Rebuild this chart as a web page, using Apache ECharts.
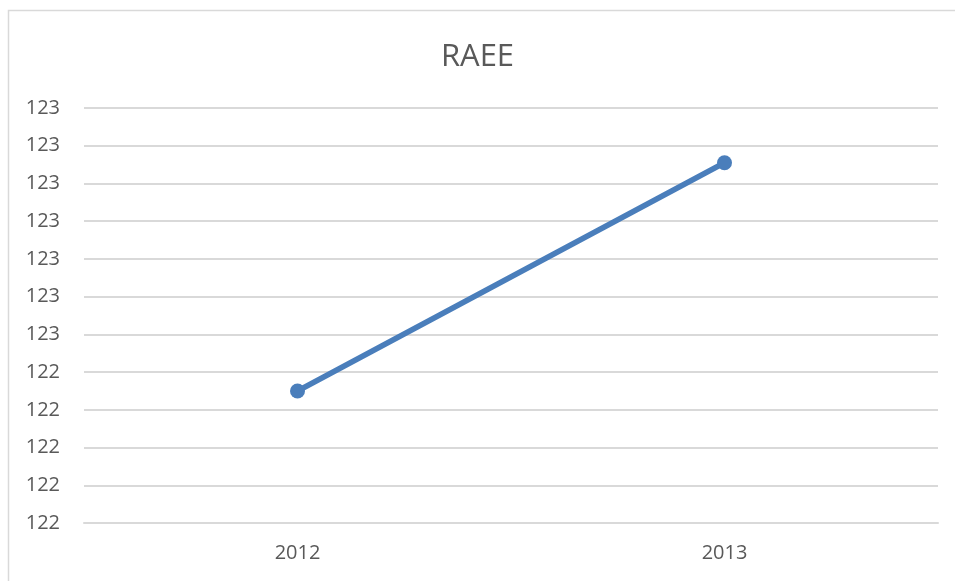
<!DOCTYPE html>
<html>
<head>
<meta charset="utf-8">
<script src="https://cdn.jsdelivr.net/npm/echarts@6/dist/echarts.min.js"></script>
<style>
  html, body { margin: 0; padding: 0; background: #ffffff; }
  #chart { width: 955px; height: 581px; }
</style>
</head>
<body>
<div id="chart"></div>
<script>
// RAEE yearly values
const years = ['2012', '2013'];
const raee = [122.35, 122.955];

// value axis range and step
const yMin = 122.0;
const yMax = 123.1;
const yStep = 0.1;

const textColor = '#595959';
const fontFamily = '"Open Sans", "Liberation Sans", sans-serif';

const chart = echarts.init(document.getElementById('chart'), null, { renderer: 'canvas' });

chart.setOption({
  animation: false,
  backgroundColor: '#ffffff',
  title: {
    text: 'RAEE',
    left: 'center',
    top: 37,
    textStyle: { color: textColor, fontSize: 31, fontWeight: 'normal', fontFamily: fontFamily }
  },
  graphic: [{
    type: 'rect',
    shape: { x: 8.5, y: 10.5, width: 1000, height: 700 },
    style: { fill: 'none', stroke: '#d9d9d9', lineWidth: 1.5 },
    silent: true
  }],
  grid: { left: 84, right: 17, top: 108, bottom: 58, containLabel: false },
  xAxis: {
    type: 'category',
    data: years,
    boundaryGap: true,
    axisLine: { show: true, lineStyle: { color: '#d9d9d9', width: 2 } },
    axisTick: { show: false },
    axisLabel: { color: textColor, fontSize: 20, fontFamily: fontFamily, margin: 20 },
    splitLine: { show: false }
  },
  yAxis: {
    type: 'value',
    min: yMin,
    max: yMax,
    interval: yStep,
    axisLine: { show: false },
    axisTick: { show: false },
    axisLabel: {
      color: textColor,
      fontSize: 20,
      fontFamily: fontFamily,
      margin: 24,
      padding: [3, 0, 0, 0],
      formatter: v => String(Math.round(+v.toFixed(1)))
    },
    splitLine: { show: true, lineStyle: { color: '#d9d9d9', width: 2 } }
  },
  series: [{
    type: 'line',
    data: raee,
    symbol: 'circle',
    symbolSize: 15,
    lineStyle: { color: '#4a7ebb', width: 5.5, cap: 'round' },
    itemStyle: { color: '#4a7ebb' }
  }]
});
</script>
</body>
</html>
